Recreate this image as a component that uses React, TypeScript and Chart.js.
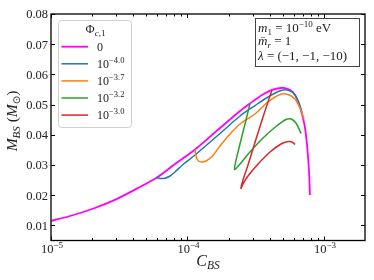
import React, { useEffect, useRef } from "react";
import { Chart, registerables } from "chart.js";

Chart.register(...registerables);

// ---------- data ----------
const seriesColors = ["#ff00ff", "#1f77b4", "#ff7f0e", "#2ca02c", "#d62728"];
const phiExponents = ["", "−4.0", "−3.7", "−3.2", "−3.0"];

const phi0C = [1e-5, 1.378e-5, 2.0e-5, 2.995e-5, 4.49e-5, 5.98e-5, 8.1e-5, 1.136e-4, 1.732e-4, 2.427e-4, 2.872e-4, 3.518e-4, 4.164e-4, 4.85e-4, 5.36e-4, 5.93e-4, 6.46e-4, 6.91e-4, 7.27e-4, 7.52e-4, 7.77e-4, 7.9e-4];
const phi0M = [0.01146, 0.01311, 0.01543, 0.01864, 0.02272, 0.02586, 0.03033, 0.03513, 0.04225, 0.04788, 0.05037, 0.05318, 0.0549, 0.0555, 0.05533, 0.05417, 0.0512, 0.0469, 0.04225, 0.03662, 0.02834, 0.02007];

const phi40C = [5.88e-5, 6.29e-5, 6.84e-5, 7.45e-5, 8.1e-5, 9.27e-5, 1.136e-4, 1.732e-4, 2.427e-4, 3.126e-4, 3.89e-4, 4.85e-4, 5.55e-4, 6.14e-4, 6.68e-4, 6.91e-4];
const phi40M = [0.02593, 0.02553, 0.0256, 0.02636, 0.02769, 0.03017, 0.03332, 0.04043, 0.04623, 0.0497, 0.05252, 0.05467, 0.05467, 0.05318, 0.04954, 0.04722];

const phi37C = [1.136e-4, 1.151e-4, 1.175e-4, 1.215e-4, 1.278e-4, 1.367e-4, 1.513e-4, 1.732e-4, 2.05e-4, 2.427e-4, 3.126e-4, 3.89e-4, 4.77e-4, 5.45e-4, 6.14e-4, 6.56e-4, 6.91e-4, 7.15e-4];
const phi37M = [0.03513, 0.03331, 0.03199, 0.03123, 0.031, 0.03133, 0.03282, 0.03629, 0.04026, 0.04358, 0.04689, 0.05086, 0.05335, 0.05335, 0.05186, 0.04954, 0.04722, 0.04523];

const phi32C = [2.872e-4, 2.685e-4, 2.467e-4, 2.307e-4, 2.23e-4, 2.212e-4, 2.269e-4, 2.427e-4, 2.872e-4, 3.578e-4, 4.454e-4, 5.27e-4, 5.74e-4, 6.24e-4, 6.8e-4];
const phi32M = [0.05037, 0.0449, 0.03828, 0.03298, 0.030, 0.02851, 0.02884, 0.03033, 0.03431, 0.03894, 0.04275, 0.04507, 0.04523, 0.04391, 0.04043];

const phi30C = [4.164e-4, 3.638e-4, 3.18e-4, 2.778e-4, 2.553e-4, 2.467e-4, 2.553e-4, 2.778e-4, 3.218e-4, 4.025e-4, 4.85e-4, 5.45e-4, 5.84e-4, 6.14e-4];
const phi30M = [0.05484, 0.04689, 0.03861, 0.030, 0.02503, 0.02222, 0.02371, 0.02636, 0.02984, 0.03431, 0.03696, 0.03778, 0.03762, 0.03679];

const seriesC = [phi0C, phi40C, phi37C, phi32C, phi30C];
const seriesM = [phi0M, phi40M, phi37M, phi32M, phi30M];

const yTicks = [0.01, 0.02, 0.03, 0.04, 0.05, 0.06, 0.07, 0.08];
const yTickLabels = ["0.01", "0.02", "0.03", "0.04", "0.05", "0.06", "0.07", "0.08"];
const xMajorTicks = [1e-5, 1e-4, 1e-3];
const xTickExponents = ["−5", "−4", "−3"];
const xMin = 1e-5;
const xMax = 2e-3;
const yMin = 0.005;
const yMax = 0.08;

// ---------- drawing helpers ----------
const SERIF = '"Liberation Serif", "DejaVu Serif", serif';
const f = (size: number, italic = false) => `${italic ? "italic " : ""}${size}px ${SERIF}`;

type Seg = { t: string; font: string; dy?: number };

function richWidth(ctx: CanvasRenderingContext2D, segs: Seg[]) {
  let w = 0;
  for (const s of segs) {
    ctx.font = s.font;
    w += ctx.measureText(s.t).width;
  }
  return w;
}

function drawRich(ctx: CanvasRenderingContext2D, segs: Seg[], x: number, y: number, align: "left" | "center" | "right" = "left") {
  const w = richWidth(ctx, segs);
  let cx = align === "left" ? x : align === "center" ? x - w / 2 : x - w;
  ctx.textAlign = "left";
  for (const s of segs) {
    ctx.font = s.font;
    ctx.fillText(s.t, cx, y + (s.dy || 0));
    cx += ctx.measureText(s.t).width;
  }
}

const TEXT = "#222";

const decorPlugin = {
  id: "decor",
  afterDraw(chart: any) {
    const { ctx, chartArea: a } = chart;
    const xs = chart.scales.x;
    const ys = chart.scales.y;
    ctx.save();
    ctx.fillStyle = TEXT;
    ctx.strokeStyle = "#000";

    // ticks (inward, all sides)
    ctx.lineWidth = 1;
    const majorLen = 4;
    const minorLen = 2.5;
    ctx.beginPath();
    for (const v of yTicks) {
      const py = Math.round(ys.getPixelForValue(v)) + 0.5;
      ctx.moveTo(a.left, py);
      ctx.lineTo(a.left + majorLen, py);
      ctx.moveTo(a.right, py);
      ctx.lineTo(a.right - majorLen, py);
    }
    for (const v of xMajorTicks) {
      const px = Math.round(xs.getPixelForValue(v)) + 0.5;
      ctx.moveTo(px, a.bottom);
      ctx.lineTo(px, a.bottom - majorLen);
      ctx.moveTo(px, a.top);
      ctx.lineTo(px, a.top + majorLen);
    }
    for (const dec of xMajorTicks) {
      for (let k = 2; k <= 9; k++) {
        const v = dec * k;
        if (v >= xMax) continue;
        const px = Math.round(xs.getPixelForValue(v)) + 0.5;
        ctx.moveTo(px, a.bottom);
        ctx.lineTo(px, a.bottom - minorLen);
        ctx.moveTo(px, a.top);
        ctx.lineTo(px, a.top + minorLen);
      }
    }
    ctx.stroke();

    // frame
    ctx.lineWidth = 1.3;
    ctx.strokeRect(a.left, a.top, a.right - a.left, a.bottom - a.top);

    // y tick labels
    ctx.textBaseline = "alphabetic";
    yTicks.forEach((v, i) => {
      const py = ys.getPixelForValue(v);
      drawRich(ctx, [{ t: yTickLabels[i], font: f(12.5) }], a.left - 3, py + 4.3, "right");
    });

    // x tick labels
    xMajorTicks.forEach((v, i) => {
      const px = xs.getPixelForValue(v);
      drawRich(ctx, [
        { t: "10", font: f(12.5) },
        { t: xTickExponents[i], font: f(9), dy: -5 },
      ], px + 1, a.bottom + 12, "center");
    });

    // x title
    drawRich(ctx, [
      { t: "C", font: f(16, true) },
      { t: "BS", font: f(11.5, true), dy: 3 },
    ], (a.left + a.right) / 2, 266, "center");

    // y title
    ctx.save();
    ctx.translate(17, 121);
    ctx.rotate(-Math.PI / 2);
    drawRich(ctx, [
      { t: "M", font: f(15.5, true) },
      { t: "BS", font: f(11, true), dy: 3 },
      { t: " (", font: f(15.5) },
      { t: "M", font: f(15.5, true) },
      { t: "⊙", font: `10px "DejaVu Sans"`, dy: 3 },
      { t: ")", font: f(15.5) },
    ], 0, 0, "center");
    ctx.restore();

    // legend
    const lx = 58, ly = 20, lw = 73, lh = 107;
    ctx.beginPath();
    ctx.roundRect(lx + 0.5, ly + 0.5, lw, lh, 3);
    ctx.fillStyle = "rgba(255,255,255,0.85)";
    ctx.fill();
    ctx.strokeStyle = "#d0d0d0";
    ctx.lineWidth = 1;
    ctx.stroke();
    ctx.fillStyle = TEXT;
    drawRich(ctx, [
      { t: "Φ", font: f(12.5) },
      { t: "c", font: f(9, true), dy: 3 },
      { t: ",1", font: f(9), dy: 3 },
    ], lx + lw / 2 + 1, ly + 13, "center");
    chart.data.datasets.forEach((ds: any, i: number) => {
      const cy = 46.7 + i * 17.1;
      ctx.strokeStyle = ds.borderColor;
      ctx.lineWidth = ds.borderWidth;
      ctx.beginPath();
      ctx.moveTo(61.5, cy);
      ctx.lineTo(88, cy);
      ctx.stroke();
      ctx.fillStyle = TEXT;
      const exp = phiExponents[i];
      if (!exp) {
        drawRich(ctx, [{ t: "0", font: f(12) }], 97, cy + 4, "left");
      } else {
        drawRich(ctx, [
          { t: "10", font: f(12) },
          { t: exp, font: f(8.5), dy: -5 },
        ], 97, cy + 4, "left");
      }
    });

    // annotation box
    ctx.fillStyle = "#fff";
    ctx.fillRect(255.5, 18.5, 104, 48);
    ctx.strokeStyle = "#444";
    ctx.lineWidth = 1;
    ctx.strokeRect(255.5, 18.5, 104, 48);
    ctx.fillStyle = TEXT;
    drawRich(ctx, [
      { t: "m", font: f(13, true) },
      { t: "1", font: f(9), dy: 2.5 },
      { t: " = 10", font: f(13) },
      { t: "−10", font: f(9), dy: -5 },
      { t: " eV", font: f(13) },
    ], 258, 32, "left");
    drawRich(ctx, [
      { t: "m̄", font: f(13, true) },
      { t: "r", font: f(9, true), dy: 2.5 },
      { t: " = 1", font: f(13) },
    ], 258, 45, "left");
    drawRich(ctx, [
      { t: "λ", font: f(13, true) },
      { t: " = (−1, −1, −10)", font: f(13) },
    ], 258, 60, "left");

    ctx.restore();
  },
};

export default function App() {
  const ref = useRef<HTMLCanvasElement | null>(null);
  useEffect(() => {
    if (!ref.current) return;
    const datasets = seriesC.map((cs, i) => ({
      label: i === 0 ? "0" : `10^${phiExponents[i]}`,
      data: cs.map((c, j) => ({ x: c, y: seriesM[i][j] })),
      borderColor: seriesColors[i],
      backgroundColor: seriesColors[i],
      borderWidth: i === 0 ? 1.8 : 1.5,
      showLine: true,
      pointRadius: 0,
      tension: 0.3,
      fill: false,
      order: 5 - i,
    }));
    const chart = new Chart(ref.current, {
      type: "scatter",
      data: { datasets },
      options: {
        animation: false,
        responsive: false,
        devicePixelRatio: 1,
        layout: { padding: { left: 51, right: 9, top: 14, bottom: 39.5 } },
        plugins: { legend: { display: false }, tooltip: { enabled: false } },
        scales: {
          x: { type: "logarithmic", min: xMin, max: xMax, display: false },
          y: { type: "linear", min: yMin, max: yMax, display: false },
        },
      },
      plugins: [decorPlugin],
    });
    return () => chart.destroy();
  }, []);
  return (
    <div style={{ position: "fixed", left: 0, top: 0, width: 374, height: 280, background: "#fff" }}>
      <canvas ref={ref} width={374} height={280} style={{ display: "block" }} />
    </div>
  );
}
